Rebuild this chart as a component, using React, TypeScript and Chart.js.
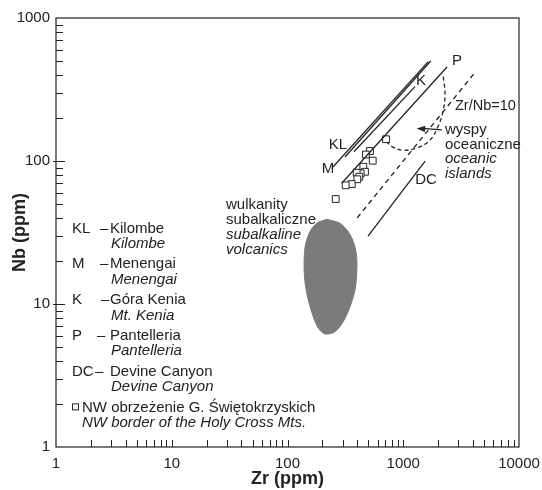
import React, { useEffect, useRef } from "react";
import { Chart, registerables } from "chart.js";
Chart.register(...registerables);

const FONT = '"Liberation Sans", Arial, Helvetica, sans-serif';
const INK = "#222222";
const BLOB = "#7b7b7b";

// ---- axis ticks ----
const xMajor = [1, 10, 100, 1000, 10000];
const yMajor = [1, 10, 100, 1000];
const minorSteps = [2, 3, 4, 5, 6, 7, 8, 9];

// ---- subalkaline volcanics field (outline) ----
const blobZr = [218, 284, 335, 375, 396, 396, 383, 347, 303, 257, 211, 185, 167, 151, 142, 139, 142, 156, 179, 218];
const blobNb = [39.1, 36.7, 32.0, 26.6, 21.4, 16.4, 12.5, 9.58, 7.52, 6.4, 6.17, 6.76, 8.15, 10.7, 14.0, 18.2, 25.2, 32.0, 36.7, 39.1];

// ---- NW border of the Holy Cross Mts. samples ----
const nwZr = [710, 516, 476, 545, 452, 467, 429, 396, 417, 401, 359, 318, 261];
const nwNb = [142, 117.5, 111, 100.5, 91.2, 84.1, 82.0, 82.8, 77.6, 74.5, 69.0, 67.6, 54.2];

// ---- trend lines ----
const klZr = [314, 1726];
const klNb = [106.6, 500];
const mZr = [247, 1645];
const mNb = [90.8, 495];
const kZr = [375, 1264];
const kNb = [116, 331];
const pZr = [294, 2388];
const pNb = [69.9, 454];
const dcZr = [496, 1545];
const dcNb = [29.8, 99.8];
const ratioZr = [400, 4100];
const ratioNb = [40, 410];

// ---- oceanic islands field (dashed curve) ----
const oibZr = [2218, 2295, 2218, 1995, 1703, 1306, 995, 815, 719];
const oibNb = [389, 297, 227, 174, 140, 123, 119, 125, 136];

// ---- legend text ----
const legendAbbr = ["KL", "M", "K", "P", "DC"];
const legendPl = ["Kilombe", "Menengai", "Góra Kenia", "Pantelleria", "Devine Canyon"];
const legendEn = ["Kilombe", "Menengai", "Mt. Kenia", "Pantelleria", "Devine Canyon"];
const nwPl = "NW obrzeżenie G. Świętokrzyskich";
const nwEn = "NW border of the Holy Cross Mts.";

// ---- annotation anchors (data coordinates) ----
const lineLabels = [
  { text: "KL", zr: 273, nb: 129.4 },
  { text: "M", zr: 224, nb: 87.9 },
  { text: "K", zr: 1422, nb: 362 },
  { text: "P", zr: 2911, nb: 500 },
  { text: "DC", zr: 1574, nb: 73.6 },
];
const ratioLabel = { text: "Zr/Nb=10", zr: 2799, nb: 243 };
const oibLabel = { lines: ["wyspy", "oceaniczne", "oceanic", "islands"], italic: [false, false, true, true], zr: 2296, nb: 165 };
const oibArrow = { fromZr: 2148, fromNb: 165, toZr: 1306, toNb: 169 };
const volcLabel = { lines: ["wulkanity", "subalkaliczne", "subalkaline", "volcanics"], italic: [false, false, true, true], zr: 29.4, nb: 49.2 };
const legendAnchor = { zr: 1.374, nb: 33.8 };
const legendDashOffset = [28, 28, 29, 25, 23];

const pts = (xs: number[], ys: number[]) => xs.map((x, i) => ({ x, y: ys[i] }));

const lineDs = (label: string, xs: number[], ys: number[], dash: number[] = [], tension = 0) => ({
  label,
  data: pts(xs, ys),
  showLine: true,
  pointRadius: 0,
  pointHoverRadius: 0,
  borderColor: INK,
  borderWidth: 1.3,
  borderDash: dash,
  fill: false,
  tension,
});

const buildTicks = (majors: number[]) => {
  const out: { value: number }[] = [];
  majors.forEach((m, i) => {
    out.push({ value: m });
    if (i < majors.length - 1) minorSteps.forEach((s) => out.push({ value: m * s }));
  });
  return out;
};

const decor = {
  id: "decor",
  afterDatasetsDraw(chart: any) {
    const { ctx, chartArea: a, scales } = chart;
    const xs = scales.x;
    const ys = scales.y;
    const X = (v: number) => xs.getPixelForValue(v);
    const Y = (v: number) => ys.getPixelForValue(v);
    ctx.save();
    ctx.strokeStyle = INK;
    ctx.fillStyle = INK;
    ctx.lineWidth = 1.2;
    ctx.setLineDash([]);
    // frame
    ctx.strokeRect(a.left, a.top, a.right - a.left, a.bottom - a.top);
    // inward ticks
    ctx.lineWidth = 1;
    xs.ticks.forEach((t: any) => {
      const px = Math.round(X(t.value)) + 0.5;
      if (px <= a.left + 1 || px >= a.right - 1) return;
      ctx.beginPath();
      ctx.moveTo(px, a.bottom);
      ctx.lineTo(px, a.bottom - 7);
      ctx.stroke();
    });
    ys.ticks.forEach((t: any) => {
      const py = Math.round(Y(t.value)) + 0.5;
      if (py <= a.top + 1 || py >= a.bottom - 1) return;
      const major = yMajor.includes(t.value);
      ctx.beginPath();
      ctx.moveTo(a.left - (major ? 3 : 0), py);
      ctx.lineTo(a.left + (major ? 9 : 7), py);
      ctx.stroke();
    });

    // axis titles
    ctx.font = `bold 18px ${FONT}`;
    ctx.textAlign = "center";
    ctx.textBaseline = "middle";
    ctx.fillText("Zr (ppm)", (a.left + a.right) / 2, 479);
    ctx.save();
    ctx.translate(20, (a.top + a.bottom) / 2);
    ctx.rotate(-Math.PI / 2);
    ctx.fillText("Nb (ppm)", 0, 0);
    ctx.restore();

    // line labels
    ctx.font = `15px ${FONT}`;
    lineLabels.forEach((l) => ctx.fillText(l.text, X(l.zr), Y(l.nb)));

    ctx.textAlign = "left";
    ctx.font = `14.5px ${FONT}`;
    ctx.fillText(ratioLabel.text, X(ratioLabel.zr), Y(ratioLabel.nb));

    const block = (b: any, spacing: number) => {
      b.lines.forEach((s: string, i: number) => {
        ctx.font = `${b.italic[i] ? "italic " : ""}15px ${FONT}`;
        ctx.fillText(s, X(b.zr), Y(b.nb) + i * spacing);
      });
    };
    block(oibLabel, 14.6);
    block(volcLabel, 15);

    // arrow
    const ax0 = X(oibArrow.fromZr), ay0 = Y(oibArrow.fromNb);
    const ax1 = X(oibArrow.toZr), ay1 = Y(oibArrow.toNb);
    ctx.lineWidth = 1.2;
    ctx.beginPath();
    ctx.moveTo(ax0, ay0);
    ctx.lineTo(ax1 + 6, ay1);
    ctx.stroke();
    const ang = Math.atan2(ay1 - ay0, ax1 - ax0);
    ctx.beginPath();
    ctx.moveTo(ax1, ay1);
    ctx.lineTo(ax1 - 9 * Math.cos(ang - 0.35), ay1 - 9 * Math.sin(ang - 0.35));
    ctx.lineTo(ax1 - 9 * Math.cos(ang + 0.35), ay1 - 9 * Math.sin(ang + 0.35));
    ctx.closePath();
    ctx.fill();

    // legend
    const lx = X(legendAnchor.zr);
    const ly = Y(legendAnchor.nb);
    const rowH = 35.8;
    const subH = 15.5;
    legendAbbr.forEach((ab, i) => {
      const y = ly + i * rowH;
      ctx.font = `15px ${FONT}`;
      ctx.fillText(ab, lx, y);
      ctx.fillText("–", lx + legendDashOffset[i], y);
      ctx.fillText(legendPl[i], lx + 38, y);
      ctx.font = `italic 15px ${FONT}`;
      ctx.fillText(legendEn[i], lx + 39, y + subH);
    });
    const ny = ly + 5 * rowH;
    ctx.lineWidth = 1;
    ctx.strokeRect(lx + 0.5, ny - 3.5, 6, 6);
    ctx.font = `15px ${FONT}`;
    ctx.fillText(nwPl, lx + 10, ny);
    ctx.font = `italic 15px ${FONT}`;
    ctx.fillText(nwEn, lx + 10, ny + subH);
    ctx.restore();
  },
};

export default function App() {
  const ref = useRef<HTMLCanvasElement>(null);
  useEffect(() => {
    const canvas = ref.current!;
    const chart = new Chart(canvas, {
      type: "scatter",
      data: {
        datasets: [
          {
            label: "subalkaline volcanics",
            data: pts(blobZr, blobNb),
            showLine: true,
            pointRadius: 0,
            borderColor: BLOB,
            backgroundColor: BLOB,
            borderWidth: 1,
            fill: "shape",
            tension: 0.3,
          } as any,
          lineDs("KL", klZr, klNb),
          lineDs("M", mZr, mNb),
          lineDs("K", kZr, kNb),
          lineDs("P", pZr, pNb),
          lineDs("DC", dcZr, dcNb),
          lineDs("Zr/Nb=10", ratioZr, ratioNb, [5, 4]),
          lineDs("oceanic islands", oibZr, oibNb, [4, 3], 0.4),
          {
            label: "NW border",
            data: pts(nwZr, nwNb),
            pointStyle: "rect",
            pointRadius: 4.8,
            pointHoverRadius: 4.8,
            pointBackgroundColor: "#ffffff",
            pointBorderColor: INK,
            pointBorderWidth: 1,
            showLine: false,
          } as any,
        ],
      },
      options: {
        responsive: false,
        devicePixelRatio: 1,
        animation: false,
        layout: { padding: { left: 0, right: 23, top: 18, bottom: 0 } },
        plugins: { legend: { display: false }, tooltip: { enabled: false } },
        scales: {
          x: {
            type: "logarithmic",
            min: 1,
            max: 10000,
            grid: { display: false, drawTicks: false },
            border: { display: false },
            afterBuildTicks: (s: any) => {
              s.ticks = buildTicks(xMajor);
            },
            afterFit: (s: any) => {
              s.height = 43;
              s.paddingLeft = 0;
              s.paddingRight = 0;
            },
            ticks: {
              autoSkip: false,
              maxRotation: 0,
              minRotation: 0,
              padding: 8,
              color: INK,
              font: { family: FONT, size: 15 },
              callback: (v: any) => (xMajor.includes(Number(v)) ? String(v) : ""),
            },
          },
          y: {
            type: "logarithmic",
            min: 1,
            max: 1000,
            grid: { display: false, drawTicks: false },
            border: { display: false },
            afterBuildTicks: (s: any) => {
              s.ticks = buildTicks(yMajor);
            },
            afterFit: (s: any) => {
              s.width = 56;
              s.paddingTop = 0;
              s.paddingBottom = 0;
            },
            ticks: {
              autoSkip: false,
              padding: 6,
              color: INK,
              font: { family: FONT, size: 15 },
              callback: (v: any) => (yMajor.includes(Number(v)) ? String(v) : ""),
            },
          },
        },
      } as any,
      plugins: [decor],
    });
    return () => chart.destroy();
  }, []);
  return (
    <div style={{ position: "fixed", left: 0, top: 0, width: 542, height: 490, background: "#fff" }}>
      <canvas ref={ref} width={542} height={490} style={{ width: 542, height: 490, display: "block" }} />
    </div>
  );
}
